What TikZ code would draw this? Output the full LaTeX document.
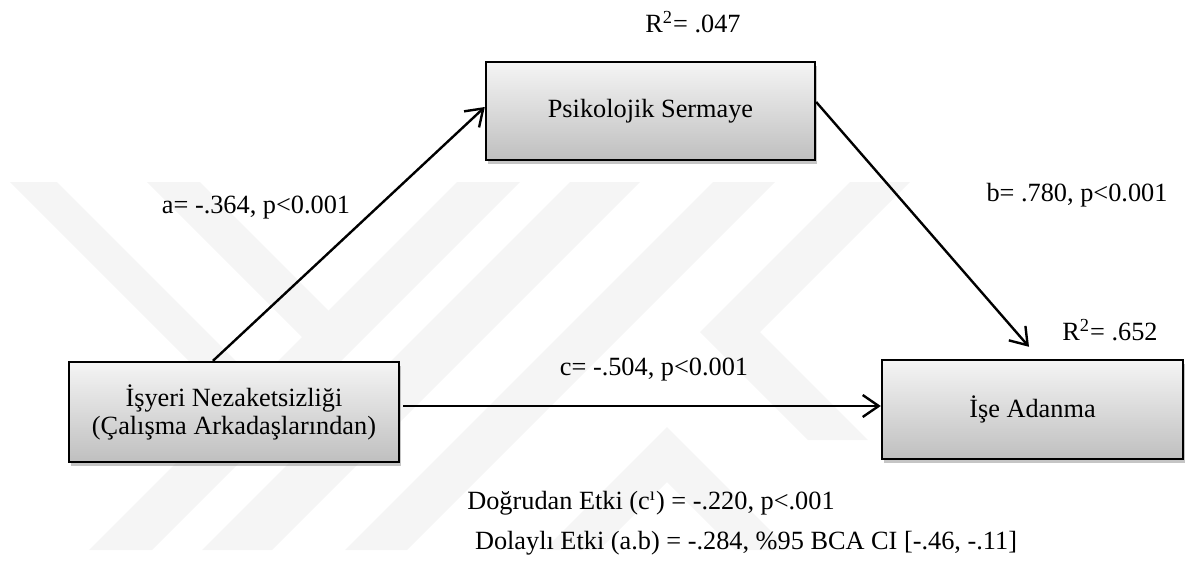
\documentclass[tikz,border=0pt]{standalone}
\usepackage{fontspec}
\setmainfont{Liberation Serif}
\usetikzlibrary{arrows.meta,shadows}
\begin{document}
\begin{tikzpicture}[x=0.5pt,y=-0.5pt,
  every node/.style={font=\fontsize{13.15pt}{14pt}\selectfont, inner sep=0pt},
  var/.style={draw=black, line width=1.2pt, rectangle, align=center,
    top color=black!4, bottom color=black!25,
    drop shadow={shadow xshift=1.2pt, shadow yshift=-2pt, fill=black!45, opacity=0.5}},
  arr/.style={line width=1.2pt, -{Straight Barb[length=8pt,width=11pt,line width=1.2pt]}},
  wm/.style={fill=black!4, draw=none}]
\useasboundingbox (0,0) rectangle (1185,563);

% faint background emblem made of diagonal bands
\fill[wm] (10,182) -- (57,182) -- (315,440) -- (268,440) -- cycle;
\fill[wm] (147,182) -- (200,182) -- (333.5,315.5) -- (307,342) -- cycle;
\fill[wm] (457,182) -- (520,182) -- (152,550) -- (89,550) -- cycle;
\fill[wm] (570,182) -- (640,182) -- (272,550) -- (202,550) -- cycle;
\fill[wm] (713,182) -- (775,182) -- (407,550) -- (345,550) -- cycle;
\fill[wm] (544,550) -- (667,427) -- (790,550) -- (735,550) -- (667,482) -- (599,550) -- cycle;
\fill[wm] (850,182) -- (910,182) -- (760,332) -- (868,440) -- (808,440) -- (700,332) -- cycle;

% variables
\node[var, minimum width=164.5pt, minimum height=49pt] (psi) at (650.5,111) {Psikolojik Sermaye};
\node[var, minimum width=165pt, minimum height=50pt] (isy) at (234,412) {İşyeri Nezaketsizliği\\(Çalışma Arkadaşlarından)};
\node[var, minimum width=150.5pt, minimum height=49.5pt] (ise) at (1032.5,409.5) {İşe Adanma};

% paths
\draw[arr] ([xshift=-10.5pt]isy.north) -- ([yshift=2pt]psi.west);
\draw[arr] ([yshift=4.5pt]psi.east) -- ([xshift=-1.75pt,yshift=6pt]ise.north);
\draw[arr] ([xshift=1.5pt,yshift=3pt]isy.east) -- ([yshift=1.75pt]ise.west);

% coefficients
\node (r1) at (693,22) {R\textsuperscript{2}= .047};
\node (la) at (256,208) {a= -.364, p<0.001};
\node (lb) at (1077,195) {b= .780, p<0.001};
\node (r2) at (1110,330) {R\textsuperscript{2}= .652};
\node (lc) at (654,370) {c= -.504, p<0.001};
\node (de) at (651,503) {Doğrudan Etki (c\textsuperscript{ı}) = -.220, p<.001};
\node (ie) at (746,543) {Dolaylı Etki (a.b) = -.284, \%95 BCA CI [-.46, -.11]};
\end{tikzpicture}
\end{document}
